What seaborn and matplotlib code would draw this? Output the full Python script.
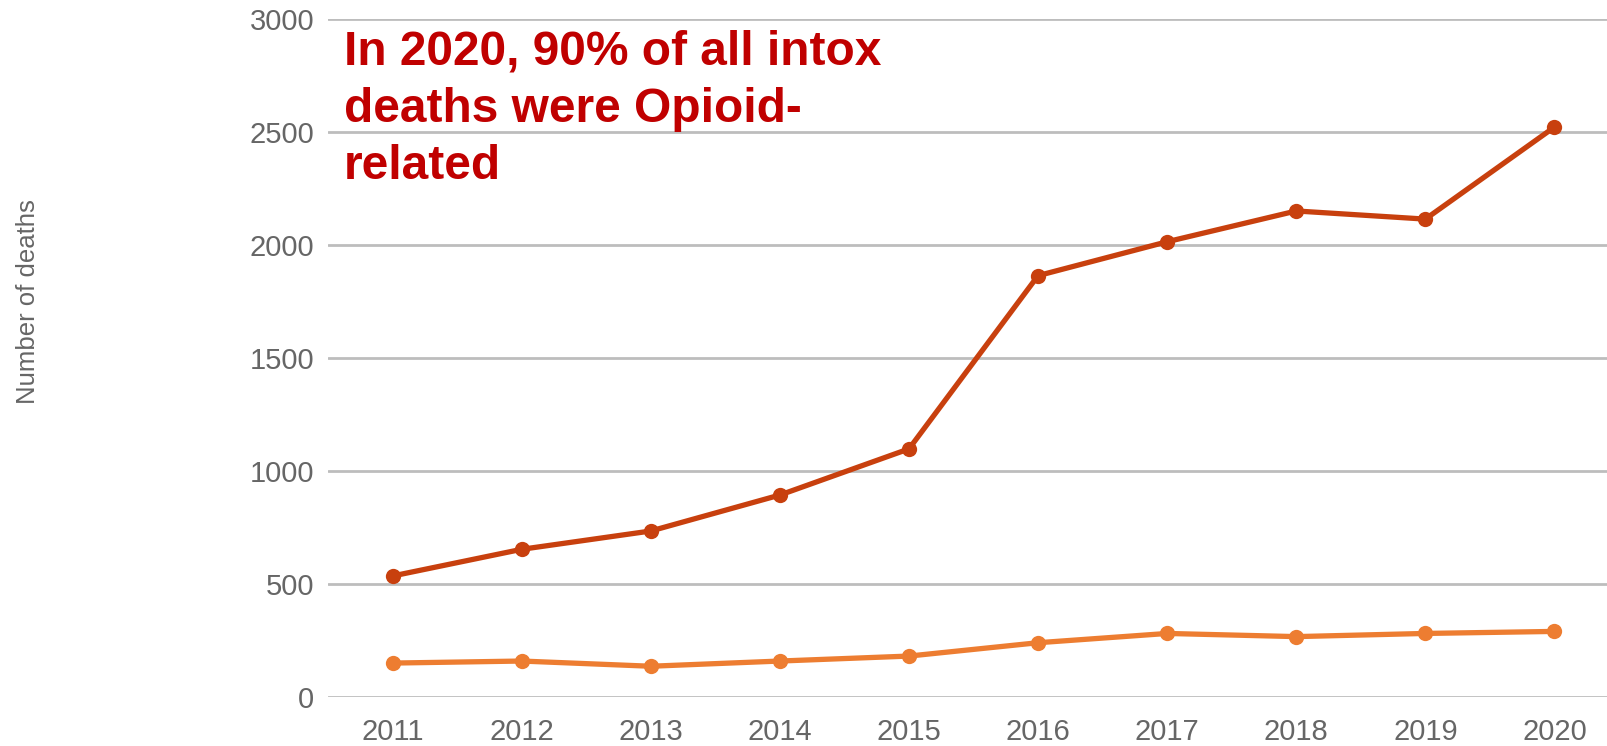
import matplotlib
matplotlib.use("Agg")
import matplotlib.pyplot as plt
import pandas as pd
import seaborn as sns

years = [2011, 2012, 2013, 2014, 2015, 2016, 2017, 2018, 2019, 2020]
opioid_deaths = [535, 653, 734, 893, 1097, 1863, 2013, 2149, 2113, 2520]
other_deaths = [150, 159, 136, 159, 181, 240, 281, 267, 281, 290]
y_ticks = [0, 500, 1000, 1500, 2000, 2500, 3000]
note = "In 2020, 90% of all intox\ndeaths were Opioid-\nrelated"

df = pd.DataFrame({
    "year": years * 2,
    "deaths": opioid_deaths + other_deaths,
    "series": ["Opioid-related"] * len(years) + ["Other"] * len(years),
})

sns.set_theme(style="white")
plt.rcParams["font.family"] = ["Liberation Sans", "DejaVu Sans"]

fig = plt.figure(figsize=(16.08, 7.46), dpi=100)
ax = fig.add_axes([328 / 1608, 49 / 746, 1291 / 1608, 678.5 / 746])

sns.lineplot(
    data=df, x="year", y="deaths", hue="series",
    palette={"Opioid-related": "#C8400E", "Other": "#ED7D31"},
    hue_order=["Other", "Opioid-related"],
    marker="o", markersize=11, markeredgewidth=0, linewidth=3.8,
    legend=False, ax=ax,
)

ax.set_xlim(2010.5, 2020.5)
ax.set_ylim(0, 3000)
ax.set_yticks(y_ticks)
ax.set_xticks(years)
ax.set_xticklabels([str(y) for y in years])
ax.yaxis.grid(True, color="#BDBDBD", linewidth=2.0)
ax.set_axisbelow(True)
for side in ["top", "right", "left", "bottom"]:
    ax.spines[side].set_visible(False)
ax.tick_params(axis="y", length=0, pad=10, labelsize=21, labelcolor="#666666")
ax.tick_params(axis="x", length=0, pad=15, labelsize=21, labelcolor="#666666")
ax.set_xlabel("")
ax.set_ylabel("")

fig.text(28 / 1608, 1 - 302 / 746, "Number of deaths", rotation=90,
         ha="center", va="center", fontsize=18.5, color="#666666")

fig.text(344 / 1608, 1 - 30 / 746, note, ha="left", va="top",
         fontsize=34.5, fontweight="bold", color="#C00000", linespacing=1.34)

fig.savefig("out.png", dpi=100)
